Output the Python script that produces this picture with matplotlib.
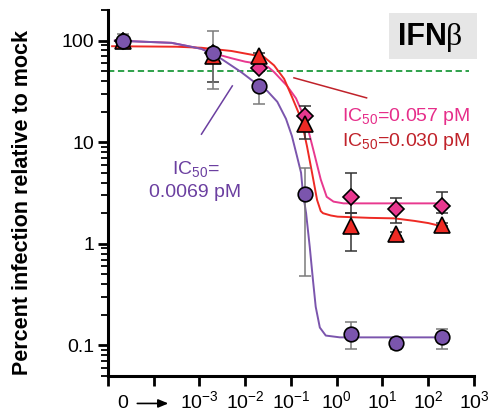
import matplotlib.pyplot as plt
import numpy as np
from matplotlib.patches import Rectangle

plt.rcParams['font.family'] = 'Liberation Sans'
plt.rcParams['mathtext.fontset'] = 'custom'
plt.rcParams['mathtext.rm'] = 'Liberation Sans'
plt.rcParams['mathtext.it'] = 'Liberation Sans:italic'
plt.rcParams['mathtext.bf'] = 'Liberation Sans:bold'

# IFN-beta concentration (pM); first point is the untreated "0" control
conc = [2.1e-5, 0.002, 0.02, 0.2, 2, 20, 200]

circle_y = [100, 76, 36, 3.1, 0.13, 0.105, 0.12]
circle_lo = [86, 33.5, 24, 0.48, 0.093, 0.092, 0.093]
circle_hi = [115, 123, 40, 5.6, 0.17, 0.118, 0.146]

tri_y = [100, 70, 71, 15, 1.5, 1.24, 1.54]
tri_lo = [95, 39, 66, 10.7, 0.85, 1.2, 1.5]
tri_hi = [105, 80, 76, 19, 2.0, 1.3, 1.6]

dia_y = [100, 76, 54, 18, 2.9, 2.2, 2.35]
dia_lo = [96, 70, 50, 14, 2.0, 1.6, 2.0]
dia_hi = [104, 82, 58, 22.7, 5.0, 2.8, 3.2]

# fitted curves (log10 conc, percent)
purple_lx = [-4.85, -3.61, -2.96, -2.52, -2.09, -1.70, -1.52, -1.30, -1.11, -0.98, -0.87,
             -0.78, -0.74, -0.67, -0.59, -0.52, -0.46, -0.37, -0.24, 0.07, 2.26]
purple_cy = [100, 95, 83, 66, 49, 36, 32, 25, 17, 11.5, 7.3,
             5.0, 3.2, 2.0, 0.93, 0.44, 0.24, 0.15, 0.125, 0.12, 0.12]

red_lx = [-4.91, -3.5, -2.96, -2.3, -1.96, -1.59, -1.37, -1.15, -0.98, -0.78, -0.65,
          -0.54, -0.43, -0.35, -0.30, -0.13, 0.02, 0.72, 1.26, 1.70, 2.0, 2.26]
red_cy = [88, 87, 85, 79, 74, 69, 57, 42, 28, 17, 9.1,
          5.0, 2.7, 2.1, 2.0, 1.9, 1.85, 1.8, 1.78, 1.68, 1.6, 1.5]

pink_lx = [-4.85, -3.61, -2.96, -2.60, -2.30, -2.0, -1.70, -1.50, -1.37, -1.09, -0.89,
           -0.67, -0.50, -0.35, -0.22, -0.07, 0.15, 2.26]
pink_cy = [100, 95, 83, 73, 67, 62, 59, 55, 49, 36, 27,
           16, 8, 4.3, 2.9, 2.6, 2.5, 2.5]

xtick_vals = [1e-5, 1e-4, 1e-3, 1e-2, 1e-1, 1e0, 1e1, 1e2, 1e3]
xtick_labels = ['', '', '$10^{-3}$', '$10^{-2}$', '$10^{-1}$', '$10^{0}$',
                '$10^{1}$', '$10^{2}$', '$10^{3}$']
ytick_vals = [0.1, 1, 10, 100]
ytick_labels = ['0.1', '1', '10', '100']

c_purple = '#7b55ad'
c_red = '#ee2a24'
c_pink = '#e8388f'

fig = plt.figure(figsize=(4.89, 4.17), dpi=100)
ax = fig.add_axes([108/489, 1-376/417, 366/489, 366/417])
ax.set_xscale('log')
ax.set_yscale('log')
ax.set_xlim(1e-5, 1e3)
ax.set_ylim(0.05, 200)

ax.axhline(50, color='#1e9a3c', lw=1.3, ls=(0, (3.5, 2)), xmax=0.985, zorder=1)

ax.plot(10**np.array(pink_lx), pink_cy, color=c_pink, lw=1.4, zorder=2)
ax.plot(10**np.array(red_lx), red_cy, color=c_red, lw=1.4, zorder=2)
ax.plot(10**np.array(purple_lx), purple_cy, color=c_purple, lw=1.4, zorder=2)

def ebars(y, lo, hi, col):
    y = np.array(y)
    ax.errorbar(conc, y, yerr=[y - np.array(lo), np.array(hi) - y], fmt='none',
                ecolor=col, elinewidth=1.1, capsize=4.3, capthick=1.1, zorder=3)

ebars(dia_y, dia_lo, dia_hi, '#333333')
ebars(tri_y, tri_lo, tri_hi, '#333333')
ebars(circle_y, circle_lo, circle_hi, '#7a7a7a')

ax.plot(conc, dia_y, 'D', ms=8, mfc=c_pink, mec='black', mew=1.2, ls='none', zorder=4)
ax.plot(conc, tri_y, '^', ms=11, mfc=c_red, mec='black', mew=1.2, ls='none', zorder=5)
ax.plot(conc, circle_y, 'o', ms=10.5, mfc=c_purple, mec='black', mew=1.2, ls='none', zorder=6)

# annotations
ax.plot([0.116, 4.49], [43, 27.3], color='#c0222a', lw=1.1, zorder=2)
ax.plot([10**-2.957, 10**-2.283], [12.0, 35.8], color='#6b3fa0', lw=1.1, zorder=2)
ax.text(1.29, 18.1, 'IC$_{50}$=0.057 pM', color='#e62e8a', fontsize=14, va='center', ha='left')
ax.text(1.29, 10.2, 'IC$_{50}$=0.030 pM', color='#c0222a', fontsize=14, va='center', ha='left')
ax.text(8.2e-4, 5.4, 'IC$_{50}$=', color='#6b3fa0', fontsize=14, va='center', ha='center')
ax.text(8.2e-4, 3.2, '0.0069 pM', color='#6b3fa0', fontsize=14, va='center', ha='center')

fig.patches.append(Rectangle((389/489, 1-59/417), 88/489, 46/417, transform=fig.transFigure,
                             facecolor='#e6e6e6', edgecolor='none'))
fig.text(398/489, 1-37/417, 'IFN', fontsize=22, fontweight='bold', va='center', ha='left')
fig.text(446/489, 1-38/417, 'β', fontsize=23, family='Liberation Serif', va='center', ha='left')

# axes styling
for s in ['top', 'right']:
    ax.spines[s].set_visible(False)
for s in ['left', 'bottom']:
    ax.spines[s].set_linewidth(2.2)

ax.set_xticks(xtick_vals, labels=xtick_labels)
ax.xaxis.set_minor_locator(plt.NullLocator())
ax.set_yticks(ytick_vals, labels=ytick_labels)
ax.yaxis.set_minor_locator(plt.LogLocator(base=10, subs=np.arange(2, 10)))
ax.yaxis.set_minor_formatter(plt.NullFormatter())
ax.tick_params(axis='both', which='major', length=7, width=2, labelsize=14, pad=3)
ax.tick_params(axis='y', which='minor', length=5, width=1.3)

ax.text(10**-4.67, -0.075, '0', transform=ax.get_xaxis_transform(), fontsize=14,
        ha='center', va='center')
ax.annotate('', xy=(10**-3.62, -0.075), xytext=(10**-4.42, -0.075),
            xycoords=ax.get_xaxis_transform(), textcoords=ax.get_xaxis_transform(),
            arrowprops=dict(arrowstyle='-|>,head_length=0.6,head_width=0.25', color='black', lw=1.2))

ax.set_ylabel('Percent infection relative to mock', fontsize=15.5, fontweight='bold')
ax.yaxis.set_label_coords(-0.205, 0.475)

fig.savefig('out.png', dpi=100)
